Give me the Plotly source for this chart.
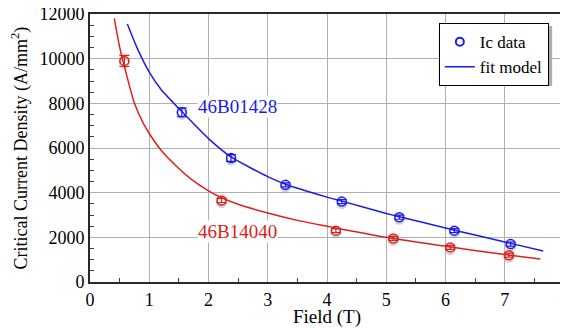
import plotly.graph_objects as go

# Measured data
red_x = [0.58, 2.22, 4.15, 5.12, 6.08, 7.07]
red_y = [9900, 3650, 2300, 1950, 1550, 1200]
red_err = [250, 90, 90, 90, 90, 90]

blue_x = [1.55, 2.38, 3.30, 4.25, 5.22, 6.15, 7.10]
blue_y = [7600, 5550, 4350, 3600, 2900, 2300, 1700]
blue_err = [200, 150, 90, 90, 90, 90, 90]

# Fit model curves
red_fit_x = [0.41, 0.5, 0.6, 0.75, 0.9, 1.0, 1.2, 1.5, 1.7, 2.0, 2.2, 2.5, 3.0, 3.5, 4.0, 4.15, 5.0, 6.0, 7.0, 7.6]
red_fit_y = [11800, 10520, 9450, 8000, 7100, 6650, 5900, 5080, 4620, 4080, 3800, 3480, 3090, 2760, 2500, 2420, 2000, 1600, 1230, 1030]

blue_fit_x = [0.63, 0.8, 1.0, 1.2, 1.55, 2.0, 2.38, 3.0, 3.3, 4.0, 4.25, 5.0, 5.22, 6.0, 6.15, 7.0, 7.1, 7.65]
blue_fit_y = [11550, 10450, 9400, 8620, 7630, 6420, 5600, 4720, 4380, 3800, 3620, 3070, 2920, 2420, 2320, 1790, 1730, 1390]

RED = "rgb(222,32,28)"
BLUE = "rgb(28,28,230)"
FONT = "Liberation Serif, Times New Roman, serif"

fig = go.Figure()

# marker shadows
for xs, ys in [(red_x, red_y), (blue_x, blue_y)]:
    fig.add_trace(go.Scatter(x=xs, y=[v - 90 for v in ys], mode="markers",
                             marker=dict(symbol="circle-open", size=9, color="rgba(150,150,150,0.45)", line=dict(width=2)),
                             showlegend=False, hoverinfo="skip"))

fig.add_trace(go.Scatter(x=red_fit_x, y=red_fit_y, mode="lines", line=dict(color=RED, width=1.5, shape="spline", smoothing=0.6),
                         showlegend=False))
fig.add_trace(go.Scatter(x=blue_fit_x, y=blue_fit_y, mode="lines", line=dict(color=BLUE, width=1.5, shape="spline", smoothing=0.6),
                         showlegend=False))

fig.add_trace(go.Scatter(x=red_x, y=red_y, mode="markers",
                         marker=dict(symbol="circle-open", size=9, color=RED, line=dict(width=1.5)),
                         error_y=dict(type="data", array=red_err, color=RED, thickness=1.2, width=5),
                         showlegend=False))
fig.add_trace(go.Scatter(x=blue_x, y=blue_y, mode="markers",
                         marker=dict(symbol="circle-open", size=9, color=BLUE, line=dict(width=1.5)),
                         error_y=dict(type="data", array=blue_err, color=BLUE, thickness=1.2, width=5),
                         showlegend=False))

# legend entries
fig.add_trace(go.Scatter(x=[None], y=[None], mode="markers", name="Ic data",
                         marker=dict(symbol="circle-open", size=8, color=BLUE, line=dict(width=2))))
fig.add_trace(go.Scatter(x=[None], y=[None], mode="lines", name="fit model",
                         line=dict(color=BLUE, width=1.5)))

fig.add_annotation(x=1.81, y=7850, text="46B01428", showarrow=False, xanchor="left",
                   font=dict(family=FONT, size=19, color=BLUE), bgcolor="white", borderpad=0)
fig.add_annotation(x=1.81, y=2240, text="46B14040", showarrow=False, xanchor="left",
                   font=dict(family=FONT, size=19, color=RED), bgcolor="white", borderpad=0)

# legend drop shadow
fig.add_shape(type="rect", xref="paper", yref="paper", x0=0.736, x1=0.975, y0=0.731, y1=0.955,
              fillcolor="rgb(175,175,175)", line=dict(width=0), layer="above")

fig.update_layout(
    width=560, height=320,
    margin=dict(l=82, r=4, t=6, b=46, autoexpand=False),
    paper_bgcolor="white", plot_bgcolor="white",
    font=dict(family=FONT, size=18, color="black"),
    legend=dict(x=0.968, y=0.966, xanchor="right", yanchor="top",
                bgcolor="white", bordercolor="black", borderwidth=1,
                font=dict(family=FONT, size=17), tracegroupgap=0, itemwidth=30),
    xaxis=dict(range=[0, 8], dtick=1, showgrid=True, gridcolor="rgb(175,175,175)", gridwidth=1,
               showline=True, linecolor="rgb(40,40,40)", linewidth=2, mirror=True, zeroline=False,
               automargin=False, tickformat="d", ticklabeloverflow="allow",
               ticks="", minor=dict(ticks="inside", dtick=0.5, ticklen=4, tickcolor="rgb(60,60,60)", showgrid=False),
               title=dict(text="Field (T)", standoff=2, font=dict(family=FONT, size=19)),
               tickfont=dict(family=FONT, size=18)),
    yaxis=dict(range=[0, 12000], dtick=2000, showgrid=True, gridcolor="rgb(175,175,175)", gridwidth=1,
               showline=True, linecolor="rgb(40,40,40)", linewidth=2, mirror=True, zeroline=False,
               automargin=False, tickformat="d", ticklabeloverflow="allow",
               ticks="", minor=dict(ticks="inside", dtick=500, ticklen=4, tickcolor="rgb(60,60,60)", showgrid=False),
               title=dict(text="Critical Current Density (A/mm<sup>2</sup>)", standoff=10, font=dict(family=FONT, size=18)),
               tickfont=dict(family=FONT, size=18)),
)

fig.write_html("out.html")
